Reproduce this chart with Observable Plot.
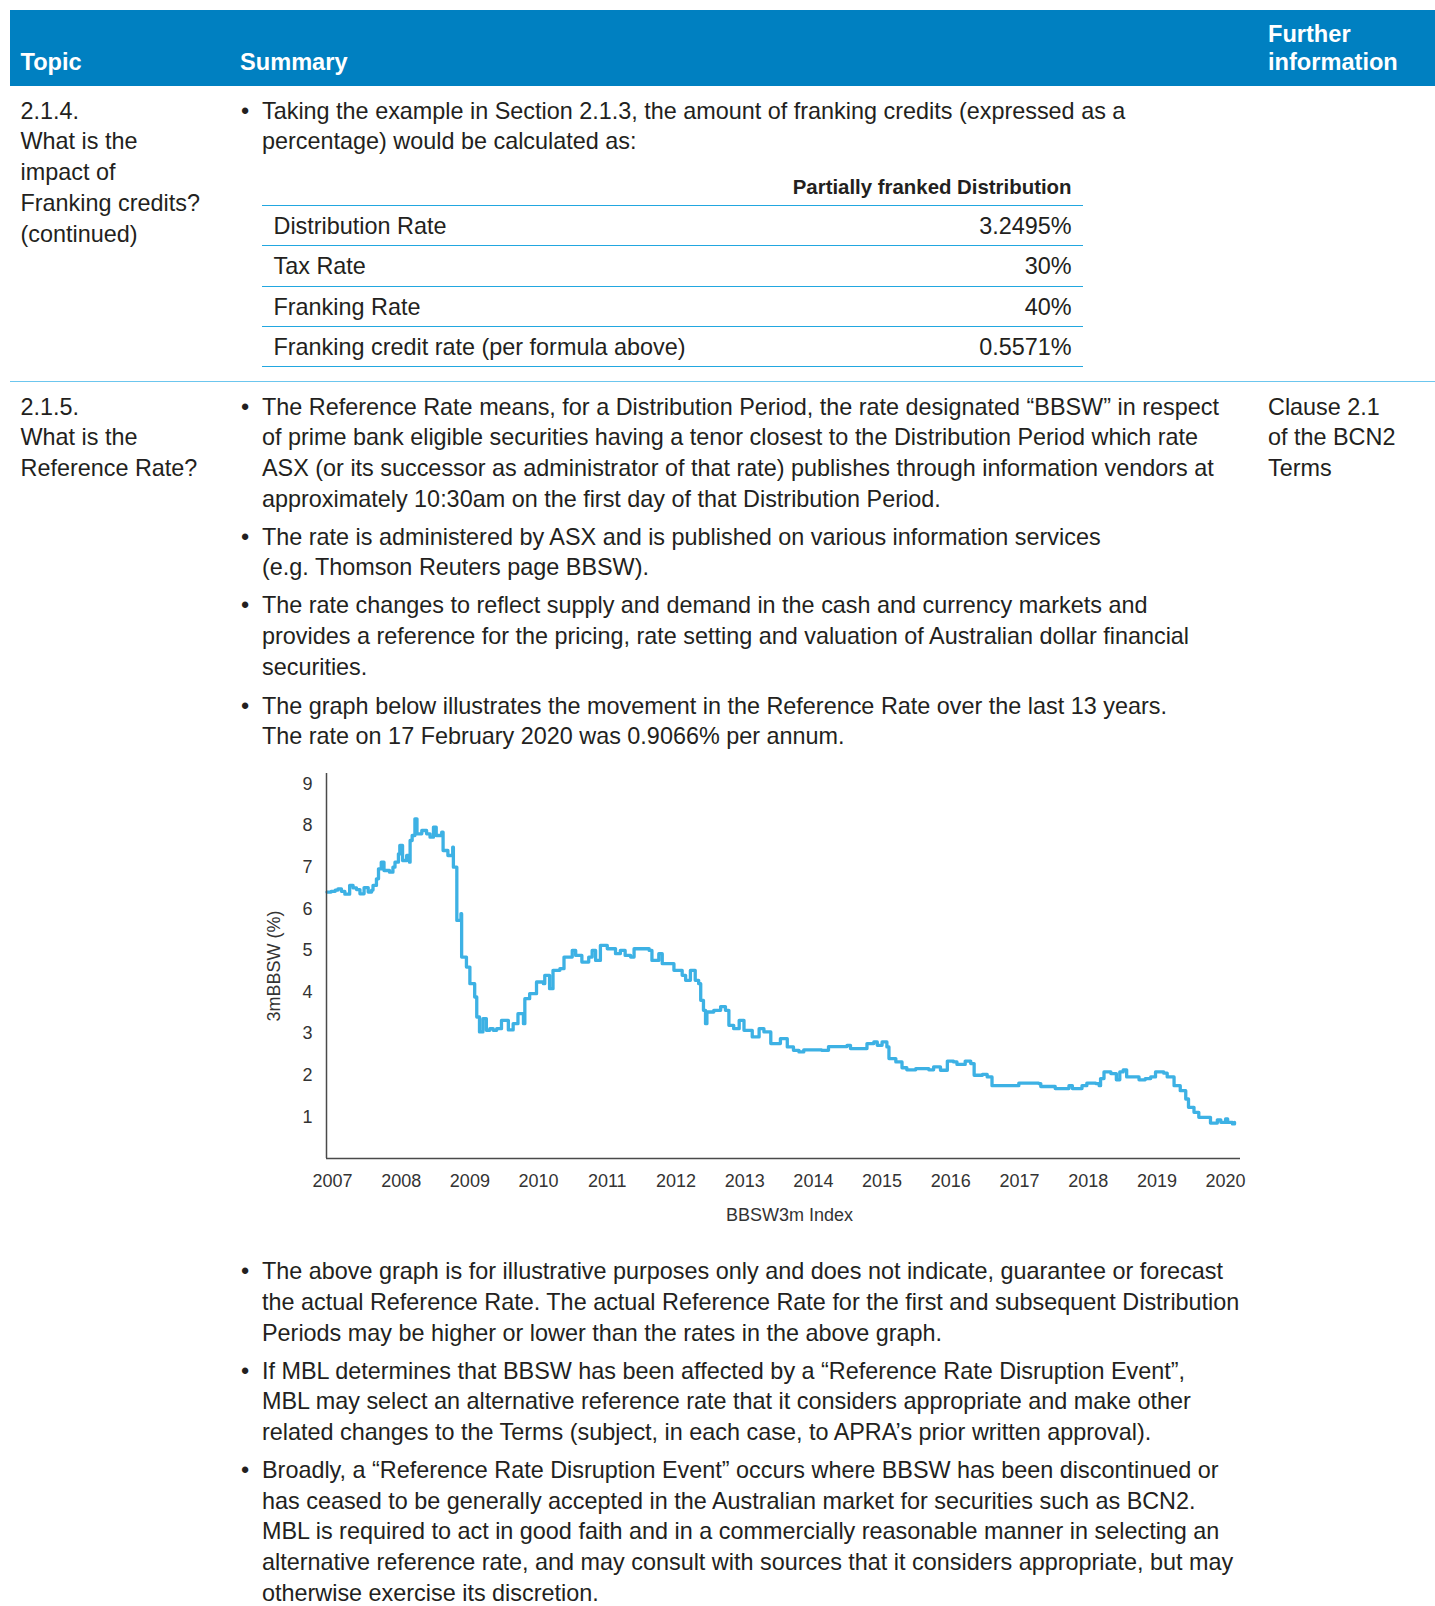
<!DOCTYPE html>
<html>
<head>
<meta charset="utf-8">
<script src="https://cdn.jsdelivr.net/npm/d3@7"></script>
<script src="https://cdn.jsdelivr.net/npm/@observablehq/plot@0.6"></script>
<style>
  html, body { margin: 0; padding: 0; background: #fff; }
  body { width: 1435px; height: 1606px; position: relative; overflow: hidden;
         font-family: "Liberation Sans", Arial, Helvetica, sans-serif; color: #231f20; }
  .ln { position: absolute; white-space: nowrap; font-size: 23.4px; line-height: 30px; height: 30px; }
  .hd { position: absolute; white-space: nowrap; font-size: 23.6px; font-weight: bold; color: #fff; line-height: 28px; }
  .rule { position: absolute; height: 0; }
  #band { position: absolute; left: 10px; top: 10px; width: 1425px; height: 76px; background: #0080c1; }
  #chart { position: absolute; left: 200px; top: 740px; }
</style>
</head>
<body>
<div id="band"></div>
<div id="page"></div>
<div id="chart"></div>
<script>
// ---- chart data (BBSW 3m) ----
const years = [
  2006.92, 2006.98, 2007.04, 2007.08, 2007.13, 2007.18, 2007.25, 2007.30, 2007.35, 2007.40,
  2007.46, 2007.52, 2007.57, 2007.59, 2007.64, 2007.67, 2007.71, 2007.75, 2007.83, 2007.88,
  2007.91, 2007.96, 2007.98, 2008.02, 2008.08, 2008.12, 2008.13, 2008.16, 2008.20, 2008.23,
  2008.30, 2008.37, 2008.42, 2008.47, 2008.51, 2008.59, 2008.61, 2008.68, 2008.75, 2008.76,
  2008.80, 2008.81, 2008.87, 2008.88, 2008.95, 2009.00, 2009.07, 2009.10, 2009.14, 2009.19,
  2009.24, 2009.29, 2009.34, 2009.39, 2009.46, 2009.56, 2009.63, 2009.70, 2009.78, 2009.80,
  2009.87, 2009.97, 2010.07, 2010.09, 2010.16, 2010.21, 2010.31, 2010.37, 2010.49, 2010.54,
  2010.63, 2010.73, 2010.78, 2010.83, 2010.90, 2011.00, 2011.12, 2011.19, 2011.26, 2011.34,
  2011.39, 2011.51, 2011.61, 2011.65, 2011.75, 2011.80, 2011.87, 2011.97, 2012.09, 2012.14,
  2012.21, 2012.28, 2012.33, 2012.36, 2012.40, 2012.43, 2012.45, 2012.55, 2012.65, 2012.72,
  2012.77, 2012.84, 2012.92, 2012.99, 2013.11, 2013.21, 2013.28, 2013.38, 2013.52, 2013.62,
  2013.71, 2013.79, 2013.86, 2014.12, 2014.22, 2014.49, 2014.54, 2014.71, 2014.78, 2014.88,
  2014.93, 2015.00, 2015.07, 2015.10, 2015.20, 2015.29, 2015.36, 2015.49, 2015.68, 2015.75,
  2015.85, 2015.95, 2016.04, 2016.09, 2016.21, 2016.29, 2016.34, 2016.46, 2016.53, 2016.60,
  2016.94, 2016.99, 2017.28, 2017.31, 2017.50, 2017.52, 2017.67, 2017.72, 2017.77, 2017.89,
  2017.91, 2017.98, 2018.11, 2018.16, 2018.18, 2018.23, 2018.33, 2018.41, 2018.46, 2018.51,
  2018.56, 2018.67, 2018.74, 2018.83, 2018.91, 2018.98, 2019.10, 2019.15, 2019.25, 2019.34,
  2019.42, 2019.46, 2019.54, 2019.61, 2019.73, 2019.78, 2019.88, 2019.93, 2020.00, 2020.03,
  2020.10, 2020.13
];
const rates = [
  6.40, 6.42, 6.45, 6.48, 6.42, 6.35, 6.56, 6.50, 6.46, 6.36,
  6.51, 6.40, 6.45, 6.56, 6.72, 6.96, 7.12, 6.92, 6.88, 7.00,
  7.12, 7.32, 7.52, 7.16, 7.28, 7.12, 7.64, 7.76, 8.16, 7.80,
  7.88, 7.80, 7.72, 7.96, 7.76, 7.84, 7.40, 7.28, 7.48, 7.00,
  7.00, 5.72, 5.88, 4.84, 4.60, 4.20, 3.88, 3.40, 3.04, 3.36,
  3.08, 3.12, 3.08, 3.12, 3.32, 3.09, 3.24, 3.48, 3.24, 3.84,
  3.96, 4.24, 4.20, 4.40, 4.08, 4.52, 4.56, 4.84, 5.00, 4.88,
  4.72, 4.84, 5.00, 4.76, 5.12, 5.04, 4.92, 5.00, 4.88, 4.84,
  5.04, 5.04, 5.00, 4.76, 4.92, 4.68, 4.68, 4.52, 4.40, 4.28,
  4.52, 4.28, 4.20, 3.80, 3.56, 3.24, 3.52, 3.56, 3.65, 3.56,
  3.20, 3.12, 3.32, 3.08, 2.92, 3.12, 3.04, 2.76, 2.88, 2.68,
  2.60, 2.56, 2.61, 2.60, 2.69, 2.72, 2.64, 2.64, 2.76, 2.80,
  2.72, 2.80, 2.68, 2.40, 2.32, 2.18, 2.13, 2.16, 2.13, 2.20,
  2.12, 2.34, 2.32, 2.26, 2.34, 2.28, 2.00, 2.02, 1.96, 1.75,
  1.75, 1.81, 1.80, 1.73, 1.73, 1.68, 1.68, 1.75, 1.68, 1.68,
  1.75, 1.81, 1.80, 1.75, 1.92, 2.08, 2.04, 1.89, 2.08, 2.13,
  1.96, 1.96, 1.89, 1.92, 1.96, 2.08, 2.05, 1.96, 1.75, 1.63,
  1.43, 1.23, 1.11, 0.99, 0.99, 0.85, 0.93, 0.87, 0.95, 0.87,
  0.83, 0.87
];
const xTicks = [2007, 2008, 2009, 2010, 2011, 2012, 2013, 2014, 2015, 2016, 2017, 2018, 2019, 2020];
const yTicks = [1, 2, 3, 4, 5, 6, 7, 8, 9];
const xLabel = "BBSW3m Index";
const yLabel = "3mBBSW (%)";

// ---- table content ----
const headers = ["Topic", "Summary", "Further", "information"];
const innerRowLabels = ["Distribution Rate", "Tax Rate", "Franking Rate", "Franking credit rate (per formula above)"];
const innerRowValues = ["3.2495%", "30%", "40%", "0.5571%"];
const innerHeader = "Partially franked Distribution";
const topic1 = ["2.1.4.", "What is the", "impact of", "Franking credits?", "(continued)"];
const topic2 = ["2.1.5.", "What is the", "Reference Rate?"];
const further2 = ["Clause 2.1", "of the BCN2", "Terms"];
const intro = ["Taking the example in Section 2.1.3, the amount of franking credits (expressed as a",
               "percentage) would be calculated as:"];
const paras = [
  ["The Reference Rate means, for a Distribution Period, the rate designated \u201cBBSW\u201d in respect",
   "of prime bank eligible securities having a tenor closest to the Distribution Period which rate",
   "ASX (or its successor as administrator of that rate) publishes through information vendors at",
   "approximately 10:30am on the first day of that Distribution Period."],
  ["The rate is administered by ASX and is published on various information services",
   "(e.g. Thomson Reuters page BBSW)."],
  ["The rate changes to reflect supply and demand in the cash and currency markets and",
   "provides a reference for the pricing, rate setting and valuation of Australian dollar financial",
   "securities."],
  ["The graph below illustrates the movement in the Reference Rate over the last 13 years.",
   "The rate on 17 February 2020 was 0.9066% per annum."],
  ["The above graph is for illustrative purposes only and does not indicate, guarantee or forecast",
   "the actual Reference Rate. The actual Reference Rate for the first and subsequent Distribution",
   "Periods may be higher or lower than the rates in the above graph."],
  ["If MBL determines that BBSW has been affected by a \u201cReference Rate Disruption Event\u201d,",
   "MBL may select an alternative reference rate that it considers appropriate and make other",
   "related changes to the Terms (subject, in each case, to APRA\u2019s prior written approval)."],
  ["Broadly, a \u201cReference Rate Disruption Event\u201d occurs where BBSW has been discontinued or",
   "has ceased to be generally accepted in the Australian market for securities such as BCN2.",
   "MBL is required to act in good faith and in a commercially reasonable manner in selecting an",
   "alternative reference rate, and may consult with sources that it considers appropriate, but may",
   "otherwise exercise its discretion."]
];
const paraTops = [406.6, 536.7, 605.4, 705.7, 1271.2, 1370.5, 1469.9];

// ---- build page text ----
const page = document.getElementById("page");
const LH = 30.73;
function addText(str, left, cy, cls, extra) {
  const d = document.createElement("div");
  d.className = cls;
  d.textContent = str;
  d.style.left = left + "px";
  d.style.top = (cy - 15) + "px";
  if (extra) Object.assign(d.style, extra);
  page.appendChild(d);
  return d;
}
function addRule(x1, x2, y, color, w) {
  const d = document.createElement("div");
  d.className = "rule";
  d.style.left = x1 + "px";
  d.style.width = (x2 - x1) + "px";
  d.style.top = (y - w / 2) + "px";
  d.style.borderTop = w + "px solid " + color;
  page.appendChild(d);
}
// header
addText(headers[0], 20.5, 62.5, "hd");
addText(headers[1], 240, 62.5, "hd");
addText(headers[2], 1268, 34.8, "hd");
addText(headers[3], 1268, 62.5, "hd");
// row 1
topic1.forEach((t, i) => addText(t, 20.5, 110.6 + i * LH, "ln"));
addText("\u2022", 241, 110.6, "ln");
intro.forEach((t, i) => addText(t, 262, 110.6 + i * LH, "ln"));
addText(innerHeader, 0, 187.4, "ln", {fontWeight: "bold", fontSize: "20.4px", width: "1071.5px", textAlign: "right"});
const innerLines = [205.9, 245.8, 286.8, 326.8, 366.7];
innerLines.forEach(y => addRule(262, 1083, y, "#22a7e0", 1.5));
const innerText = [226.4, 266.3, 307.3, 347.2];
innerRowLabels.forEach((t, i) => addText(t, 273.5, innerText[i], "ln"));
innerRowValues.forEach((t, i) => addText(t, 0, innerText[i], "ln", {width: "1071.5px", textAlign: "right"}));
addRule(10, 1435, 382, "#6cc6ee", 1.5);
// row 2
topic2.forEach((t, i) => addText(t, 20.5, 406.6 + i * LH, "ln"));
further2.forEach((t, i) => addText(t, 1268, 406.6 + i * LH, "ln"));
paras.forEach((p, k) => {
  addText("\u2022", 241, paraTops[k], "ln");
  p.forEach((t, i) => addText(t, 262, paraTops[k] + i * LH, "ln"));
});

// ---- chart ----
const data = years.map((y, i) => ({year: y, rate: rates[i]}));
const x0 = 2006.913, x1 = 2020.217;
const chart = Plot.plot({
  width: 1060,
  height: 500,
  marginLeft: 126,
  marginRight: 20,
  marginTop: 33,
  marginBottom: 82,
  x: {type: "linear", domain: [x0, x1], ticks: xTicks, tickFormat: d => String(d), tickSize: 0, tickPadding: 16, label: null},
  y: {domain: [0, 9.25], ticks: yTicks, tickFormat: d => String(d), tickSize: 0, tickPadding: 14, label: null},
  style: {fontFamily: "'Liberation Sans', Arial, sans-serif", fontSize: "18px", color: "#333", background: "transparent", overflow: "visible"},
  marks: [
    Plot.line(data, {x: "year", y: "rate", stroke: "#3db1e4", strokeWidth: 3.3, curve: "step-after"}),
    Plot.ruleY([0], {stroke: "#4a4a4a", strokeWidth: 1.5}),
    Plot.ruleX([x0], {stroke: "#4a4a4a", strokeWidth: 1.5}),
    Plot.text([yLabel], {text: d => d, frameAnchor: "left", textAnchor: "middle", dx: -52, rotate: -90, fontSize: 18, fill: "#333"}),
    Plot.text([xLabel], {text: d => d, frameAnchor: "bottom", textAnchor: "middle", dx: 6, dy: 62, fontSize: 18, fill: "#333"})
  ]
});
document.getElementById("chart").appendChild(chart);
</script>
</body>
</html>
